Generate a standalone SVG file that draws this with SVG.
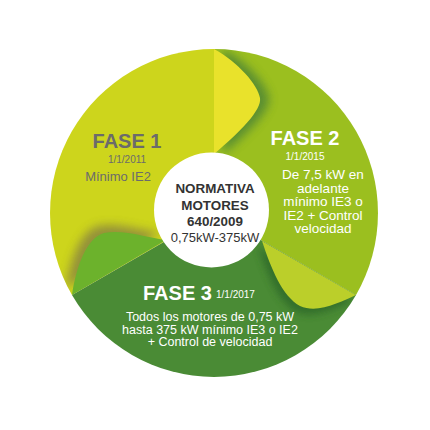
<svg xmlns="http://www.w3.org/2000/svg" width="430" height="430" viewBox="0 0 430 430">
  <defs>
    <style>
      text { font-family: "Liberation Sans", Arial, sans-serif; }
      .title { font-weight: bold; font-size: 20px; }
      .date { font-size: 10px; }
      .body { font-size: 13.5px; }
      .body3 { font-size: 12.5px; }
      .ctr { font-weight: bold; font-size: 13.4px; fill: #333333; text-anchor: middle; }
      .gray { fill: #6B6B6B; }
      .white { fill: #FFFFFF; }
    </style>
    <clipPath id="c1"><path d="M214,213 L214,49 A164,164 0 0 0 72,295 Z"/></clipPath>
    <clipPath id="c2"><path d="M214,213 L214,49 A164,164 0 0 1 356,295 Z"/></clipPath>
    <clipPath id="c3"><path d="M214,213 L356,295 A164,164 0 0 1 72,295 Z"/></clipPath>
    <filter id="blur5" x="-50%" y="-50%" width="200%" height="200%"><feGaussianBlur stdDeviation="5"/></filter>
    <filter id="blur3" x="-50%" y="-50%" width="200%" height="200%"><feGaussianBlur stdDeviation="3.5"/></filter>
  </defs>

  <g id="fase1">
    <path d="M214,213 L214,49 A164,164 0 0 0 72,295 Z" fill="#CDD51C"/>
    <g clip-path="url(#c1)">
      <path d="M72,295 C76,268 86,238 104,233 C124,229 148,238 166,240 Z" fill="#8E8A3E" filter="url(#blur5)" transform="translate(-6,-7)" opacity="0.9"/>
      <path d="M72,295 C76,268 86,238 104,233 C124,229 148,238 166,240 Z" fill="#6CB22C"/>
    </g>
    <text class="title gray" x="127" y="148" text-anchor="middle">FASE 1</text>
    <text class="date gray" x="127" y="162.5" text-anchor="middle">1/1/2011</text>
    <text class="gray" x="118" y="181" text-anchor="middle" style="font-size:13px">Mínimo IE2</text>
  </g>

  <g id="fase2">
    <path d="M214,213 L214,49 A164,164 0 0 1 356,295 Z" fill="#9BBF1F"/>
    <g clip-path="url(#c2)">
      <path d="M214,49 C238,62 258,85 260,98 C262,110 240,132 214,154 Z" fill="#4F8636" filter="url(#blur5)" transform="translate(9,0)" opacity="0.85"/>
      <path d="M214,49 C238,62 258,85 260,98 C262,110 240,132 214,154 Z" fill="#E9E22B"/>
    </g>
    <text class="title white" x="305" y="145" text-anchor="middle">FASE 2</text>
    <text class="date white" x="305" y="159.5" text-anchor="middle">1/1/2015</text>
    <g class="body white" text-anchor="middle">
      <text x="323" y="179">De 7,5 kW en</text>
      <text x="323" y="192.5">adelante</text>
      <text x="323" y="206">mínimo IE3 o</text>
      <text x="323" y="219.5">IE2 + Control</text>
      <text x="323" y="233">velocidad</text>
    </g>
  </g>

  <g id="fase3">
    <path d="M214,213 L356,295 A164,164 0 0 1 72,295 Z" fill="#4A8B35"/>
    <g clip-path="url(#c3)">
      <path d="M262,241 C271,268 282,296 300,306 C318,314 340,302 356,295 Z" fill="#336D2C" filter="url(#blur3)" transform="translate(-4,6)" opacity="0.9"/>
      <path d="M262,241 C271,268 282,296 300,306 C318,314 340,302 356,295 Z" fill="#BBCF2A"/>
    </g>
    <text class="title white" x="143" y="300">FASE 3</text>
    <text class="date white" x="216" y="298">1/1/2017</text>
    <g class="body3 white" text-anchor="middle">
      <text x="210" y="321">Todos los motores de 0,75 kW</text>
      <text x="210" y="333.5">hasta 375 kW mínimo IE3 o IE2</text>
      <text x="210" y="346">+ Control de velocidad</text>
    </g>
  </g>

  <g id="center">
    <circle cx="211.5" cy="210" r="57.5" fill="#FFFFFF"/>
    <text class="ctr" x="215" y="193">NORMATIVA</text>
    <text class="ctr" x="215" y="209.5">MOTORES</text>
    <text class="ctr" x="215" y="226">640/2009</text>
    <text class="ctr" x="215" y="241.5" style="font-weight:normal;font-size:13px">0,75kW-375kW</text>
  </g>
</svg>
